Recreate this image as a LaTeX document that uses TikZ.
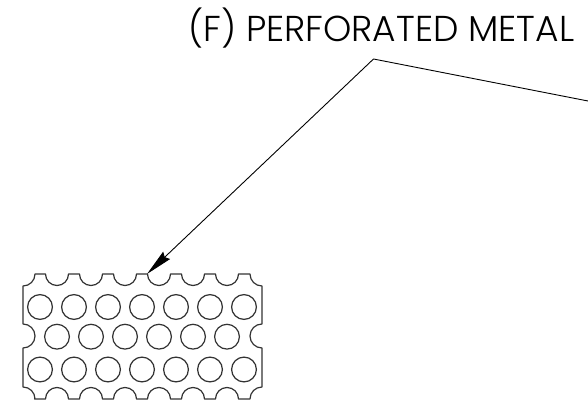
\documentclass[tikz,border=0pt]{standalone}
\usepackage{fontspec}
\setmainfont{Poppins}[UprightFont=* Light]
\usetikzlibrary{arrows.meta}
\tikzset{
 plate/.style={draw=black!80,line width=1.2pt,line join=round},
 hole/.style={draw=black!80,line width=1.2pt},
 leader/.style={draw=black,line width=0.9pt},
 label/.style={inner sep=0pt,anchor=base west,font=\fontsize{36}{40}\selectfont,text=black}
}
\begin{document}
\begin{tikzpicture}[x=1pt,y=-1pt]
\useasboundingbox (0,0) rectangle (588,406);
\node[label] (title) at (188,41.5) {(F) PERFORATED METAL};
\coordinate (elbow) at (373.5,59);
\coordinate (free) at (588,101);
\coordinate (tip) at (147,274);
\draw[leader,-{Stealth[length=27pt,width=10pt,inset=2.5pt]}] (free) -- (elbow) -- (tip);
% plate outline
\draw[plate] (23,286) arc[start angle=270,end angle=360,radius=12pt] -- (45.5,274)
 \foreach \k in {0,...,5} {
   arc[start angle=180,end angle=360,radius=11.5pt] -- ++(11,0)
 }
 -- (250,274) arc[start angle=180,end angle=270,radius=12pt]
 -- (262,324) arc[start angle=90,end angle=270,radius=12pt]
 -- (262,387) arc[start angle=90,end angle=180,radius=12pt]
 -- (238.5,399)
 \foreach \k in {0,...,5} {
   arc[start angle=0,end angle=180,radius=11.5pt] -- ++(-11,0)
 }
 -- (35,399) arc[start angle=0,end angle=90,radius=12pt]
 -- (23,348) arc[start angle=270,end angle=450,radius=12pt]
 -- cycle;
\foreach \k in {0,...,6} {
  \draw[hole] (40+34*\k,307) circle[radius=12.4pt];
  \draw[hole] (40+34*\k,369.5) circle[radius=12.4pt];
}
\foreach \k in {0,...,5} {
  \draw[hole] (57+34*\k,336.7) circle[radius=12.4pt];
}
\end{tikzpicture}
\end{document}
